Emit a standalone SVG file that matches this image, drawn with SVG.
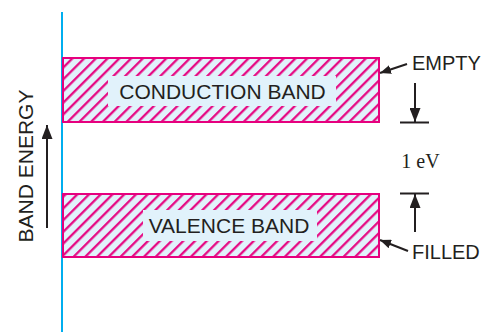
<svg xmlns="http://www.w3.org/2000/svg" width="487" height="332" viewBox="0 0 487 332">
<style>
.band{fill:url(#hatch);stroke:#e6007e;stroke-width:2}
.lblbg{fill:#e1f2fb;stroke:none}
.lbl{font-family:"Liberation Sans",Arial,sans-serif;font-size:21px;fill:#231f20;text-anchor:middle}
.side{font-family:"Liberation Sans",Arial,sans-serif;font-size:20px;fill:#231f20}
.ev{font-family:"Liberation Serif","Times New Roman",serif;font-size:20px;fill:#231f20;text-anchor:middle}
.arr{stroke:#231f20;stroke-width:2;fill:none}
.bar{stroke:#231f20;stroke-width:2}
</style>
<defs>
<pattern id="hatch" patternUnits="userSpaceOnUse" width="8.3" height="8.3" patternTransform="rotate(45)">
<rect width="8.3" height="8.3" fill="#e1f2fb"/>
<line x1="1.2" y1="0" x2="1.2" y2="8.3" stroke="#e6007e" stroke-width="2.2"/>
</pattern>
<marker id="headL" markerUnits="userSpaceOnUse" markerWidth="14" markerHeight="11" refX="14" refY="5.5" orient="auto">
<path d="M0,0 L14,5.5 L0,11 Z" fill="#231f20"/>
</marker>
<marker id="headS" markerUnits="userSpaceOnUse" markerWidth="11" markerHeight="9" refX="11" refY="4.5" orient="auto">
<path d="M0,0 L11,4.5 L0,9 Z" fill="#231f20"/>
</marker>
</defs>
<line x1="62" y1="12" x2="62" y2="332" stroke="#00aeef" stroke-width="2"/>
<g id="conduction">
<rect class="band" x="63" y="58" width="316" height="64"/>
<rect class="lblbg" x="108" y="76" width="228" height="30"/>
<text class="lbl" x="222.5" y="99">CONDUCTION BAND</text>
</g>
<g id="valence">
<rect class="band" x="63" y="194" width="316" height="63"/>
<rect class="lblbg" x="143" y="210" width="174" height="31"/>
<text class="lbl" x="229" y="233">VALENCE BAND</text>
</g>
<g id="axis-label">
<text class="side" text-anchor="middle" transform="translate(33,166) rotate(-90)" style="font-size:21px">BAND ENERGY</text>
</g>
<g id="empty-label"><text class="side" x="412" y="70">EMPTY</text></g>
<g id="filled-label"><text class="side" x="412" y="259">FILLED</text></g>
<g id="gap-label"><text class="ev" x="420.5" y="168">1 eV</text></g>
<g id="connectors">
<line class="arr" x1="47" y1="228" x2="47" y2="125" marker-end="url(#headL)"/>
<line class="arr" x1="407" y1="64" x2="380" y2="73" marker-end="url(#headS)"/>
<line class="arr" x1="408" y1="251" x2="380" y2="240" marker-end="url(#headS)"/>
<line class="arr" x1="415" y1="83" x2="415" y2="122" marker-end="url(#headL)"/>
<line class="bar" x1="400" y1="122.5" x2="429" y2="122.5"/>
<line class="arr" x1="415" y1="232" x2="415" y2="194" marker-end="url(#headL)"/>
<line class="bar" x1="400" y1="193.5" x2="429" y2="193.5"/>
</g>
</svg>
